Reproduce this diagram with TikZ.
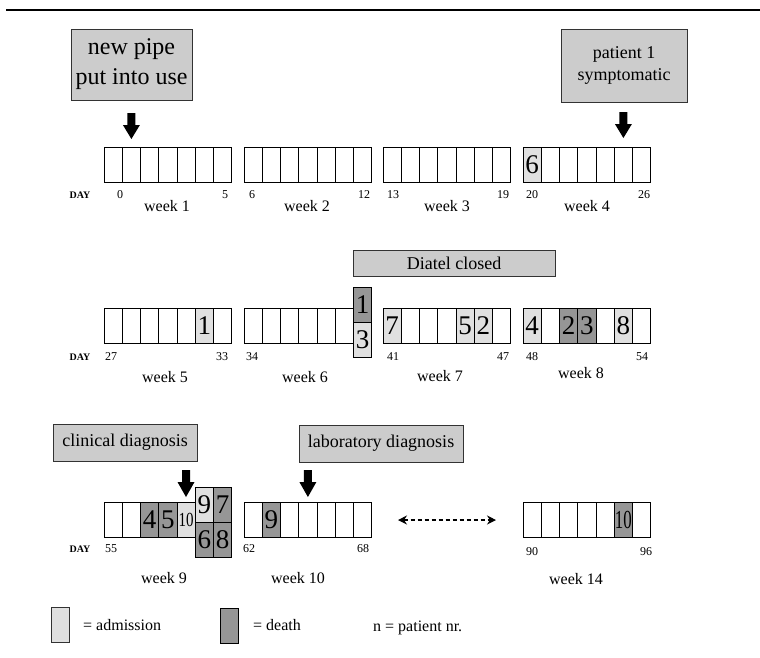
\documentclass[tikz,border=0pt]{standalone}
\usepackage{fontspec}
\usepackage{graphicx}
\setmainfont{Liberation Serif}
\usetikzlibrary{arrows.meta}
\definecolor{lblgray}{gray}{0.8}
\definecolor{admgray}{gray}{0.88}
\definecolor{dthgray}{gray}{0.59}
\definecolor{edgegray}{gray}{0.2}
\newcommand{\fsz}[2]{\fontsize{#1}{#2}\selectfont}
\newcommand{\weekrow}[2]{%
  \foreach \i in {0,...,6} {\draw[cellline] ({#1+\i*18.25},{#2}) rectangle ++(18.25,35);}}
\newcommand{\markcell}[5]{%
  \draw[cellline, fill=#4] ({#2},{#3}) rectangle ++(18.25,35);
  \node[celltext] (#1) at ({#2+9.125},{#3+17.5}) {#5};}
\newcommand{\blockarrow}[3]{%
  \fill[black] ({#1-4},{#2}) -- ({#1+4},{#2}) -- ({#1+4},{#2+12}) -- ({#1+8.5},{#2+12})
    -- ({#1},{#3}) -- ({#1-8.5},{#2+12}) -- ({#1-4},{#2+12}) -- cycle;}
\begin{document}
\begin{tikzpicture}[x=1pt,y=-1pt,
  cellline/.style={draw=black, line width=0.8pt},
  celltext/.style={font=\fsz{27}{27}, inner sep=0pt},
  lblbox/.style={draw=edgegray, line width=0.9pt, fill=lblgray, inner sep=0pt, align=center},
  daynum/.style={font=\fsz{12}{12}, inner sep=0pt},
  daytag/.style={font=\fsz{10}{10}\bfseries, inner sep=0pt},
  wklabel/.style={font=\fsz{16}{16}, inner sep=0pt, anchor=base},
  legtext/.style={font=\fsz{16}{16}, inner sep=0pt, anchor=west}]
\useasboundingbox (0,0) rectangle (760,657);
\draw[line width=2.5pt] (6,10) -- (760,10);

% label boxes
\node[lblbox, minimum width=121, minimum height=71, font=\fsz{24}{30}] (pipe) at (131.5,64.5) {new pipe\\put into use};
\node[lblbox, minimum width=126, minimum height=73, font=\fsz{18}{22}] (sympt) at (624,65.5) {patient 1\\symptomatic};
\node[lblbox, minimum width=202, minimum height=26, font=\fsz{18}{18}] (diatel) at (454,263) {Diatel closed};
\node[lblbox, minimum width=144, minimum height=37, font=\fsz{18}{18}] (clin) at (125,442.5) {clinical diagnosis};
\node[lblbox, minimum width=164, minimum height=37, font=\fsz{18}{18}] (lab) at (381,443.5) {laboratory diagnosis};

% block arrows
\blockarrow{131.4}{113}{139}
\blockarrow{623.4}{112}{138}
\blockarrow{186}{470}{497}
\blockarrow{307.9}{470}{497}

% row 1
\weekrow{104}{147}
\weekrow{244}{147}
\weekrow{383}{147}
\weekrow{523}{147}
\markcell{c6a}{523}{147}{admgray}{6}

% row 2
\weekrow{104}{308}
\weekrow{244}{308}
\weekrow{383}{308}
\weekrow{523}{308}
\markcell{c1a}{104+5*18.25}{308}{admgray}{1}
\markcell{c1d}{244+6*18.25}{287}{dthgray}{1}
\markcell{c3a}{244+6*18.25}{322}{admgray}{3}
\markcell{c7a}{383}{308}{admgray}{7}
\markcell{c5a}{383+4*18.25}{308}{admgray}{5}
\markcell{c2a}{383+5*18.25}{308}{admgray}{2}
\markcell{c4a}{523}{308}{admgray}{4}
\markcell{c2d}{523+2*18.25}{308}{dthgray}{2}
\markcell{c3d}{523+3*18.25}{308}{dthgray}{3}
\markcell{c8a}{523+5*18.25}{308}{admgray}{8}

% row 3
\weekrow{104}{502}
\weekrow{244}{502}
\weekrow{523}{502}
\markcell{c4d}{104+2*18.25}{502}{dthgray}{4}
\markcell{c5d}{104+3*18.25}{502}{dthgray}{5}
\markcell{c10a}{104+4*18.25}{502}{admgray}{\fsz{20}{20}\scalebox{0.75}[1]{10}}
\markcell{c9a}{104+5*18.25}{487}{admgray}{9}
\markcell{c6d}{104+5*18.25}{522}{dthgray}{6}
\markcell{c7d}{104+6*18.25}{487}{dthgray}{7}
\markcell{c8d}{104+6*18.25}{522}{dthgray}{8}
\markcell{c9d}{244+1*18.25}{502}{dthgray}{9}
\markcell{c10d}{523+5*18.25}{502}{dthgray}{\fsz{26}{26}\scalebox{0.65}[1]{10}}

% dashed gap arrow
\coordinate (gapL) at (398,520);
\coordinate (gapR) at (496,520);
\draw[line width=1.3pt, dash pattern=on 4pt off 3pt, {Stealth[length=9pt,width=9pt]}-{Stealth[length=9pt,width=9pt]}] (gapL) -- (gapR);

% DAY tags
\node[daytag] (day1) at (80,195) {DAY};
\node[daytag] (day2) at (80,357) {DAY};
\node[daytag] (day3) at (80,549) {DAY};

% day numbers row 1
\node[daynum] (d0) at (120,195) {0};
\node[daynum] (d5) at (225,195) {5};
\node[daynum] (d6) at (252,195) {6};
\node[daynum] (d12) at (364,195) {12};
\node[daynum] (d13) at (393,195) {13};
\node[daynum] (d19) at (503,195) {19};
\node[daynum] (d20) at (532,195) {20};
\node[daynum] (d26) at (644,195) {26};
% row 2
\node[daynum] (d27) at (111,357) {27};
\node[daynum] (d33) at (222,357) {33};
\node[daynum] (d34) at (252,357) {34};
\node[daynum] (d41) at (393,357) {41};
\node[daynum] (d47) at (503,357) {47};
\node[daynum] (d48) at (532,357) {48};
\node[daynum] (d54) at (642,357) {54};
% row 3
\node[daynum] (d55) at (111,549) {55};
\node[daynum] (d62) at (249,549) {62};
\node[daynum] (d68) at (363,549) {68};
\node[daynum] (d90) at (532,552) {90};
\node[daynum] (d96) at (646,552) {96};

% week labels
\node[wklabel] (w1) at (167,211) {week 1};
\node[wklabel] (w2) at (307,211) {week 2};
\node[wklabel] (w3) at (447,211) {week 3};
\node[wklabel] (w4) at (587,211) {week 4};
\node[wklabel] (w5) at (165,382) {week 5};
\node[wklabel] (w6) at (305,382) {week 6};
\node[wklabel] (w7) at (440,381) {week 7};
\node[wklabel] (w8) at (581,378) {week 8};
\node[wklabel] (w9) at (164,583) {week 9};
\node[wklabel] (w10) at (298,583) {week 10};
\node[wklabel] (w14) at (576,584) {week 14};

% legend
\draw[draw=edgegray, line width=0.9pt, fill=admgray] (51,607) rectangle (69,642);
\node[legtext] (admis) at (83,625) {= admission};
\draw[draw=black, line width=0.9pt, fill=dthgray] (220,608) rectangle (238,643);
\node[legtext] (death) at (253,625) {= death};
\node[legtext] (pnr) at (373,628) {n = patient nr.};
\end{tikzpicture}
\end{document}
